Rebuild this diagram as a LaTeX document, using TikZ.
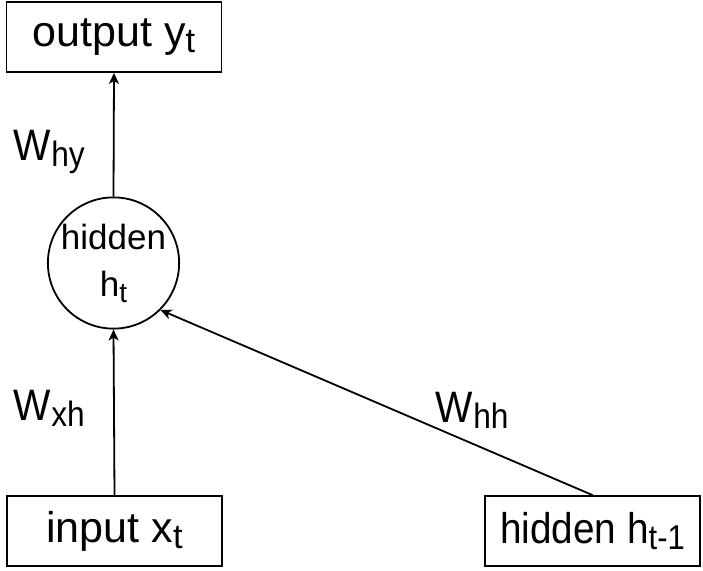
\documentclass[tikz,border=0pt]{standalone}
\usepackage{fontspec}
\setmainfont{Liberation Sans}
\usetikzlibrary{arrows.meta}
\newcommand{\lsub}[1]{\raisebox{-6pt}{\scalebox{0.8}{#1}}}
\begin{document}
\begin{tikzpicture}[x=1pt,y=-1pt,line width=1.8pt,
  box/.style={draw,rectangle,minimum width=215pt,minimum height=70pt,inner sep=0pt,font=\fontsize{43}{47}\selectfont},
  hidcirc/.style={draw,circle,minimum size=130pt,inner sep=0pt,align=center,font=\fontsize{35}{43}\selectfont},
  arr/.style={-{Stealth[length=11pt,width=10pt,inset=3pt]}},
  wlab/.style={anchor=base west,inner sep=0pt,font=\fontsize{44}{48}\selectfont}]
\useasboundingbox (0,0) rectangle (703,570);
\node[box] (out) at (114,37) {output y\lsub{t}};
\node[hidcirc] (hid) at (113.5,263) {\raisebox{4pt}{hidden}\\h\lsub{t}};
\node[box] (inp) at (114.5,531) {input x\lsub{t}};
\node[box] (prev) at (592.5,531) {\scalebox{0.9}[1]{hidden h\lsub{t-1}}};
\draw[arr] (hid.north) -- (out.south);
\draw[arr] (inp.north) -- (hid.south);
\draw[arr] (prev.north) -- (hid.-45);
\node[wlab] (why) at (13,160) {\scalebox{0.9}[1]{W\lsub{hy}}};
\node[wlab] (wxh) at (13,420) {\scalebox{0.9}[1]{W\lsub{xh}}};
\node[wlab] (whh) at (435,422) {\scalebox{0.9}[1]{W\lsub{hh}}};
\end{tikzpicture}
\end{document}
